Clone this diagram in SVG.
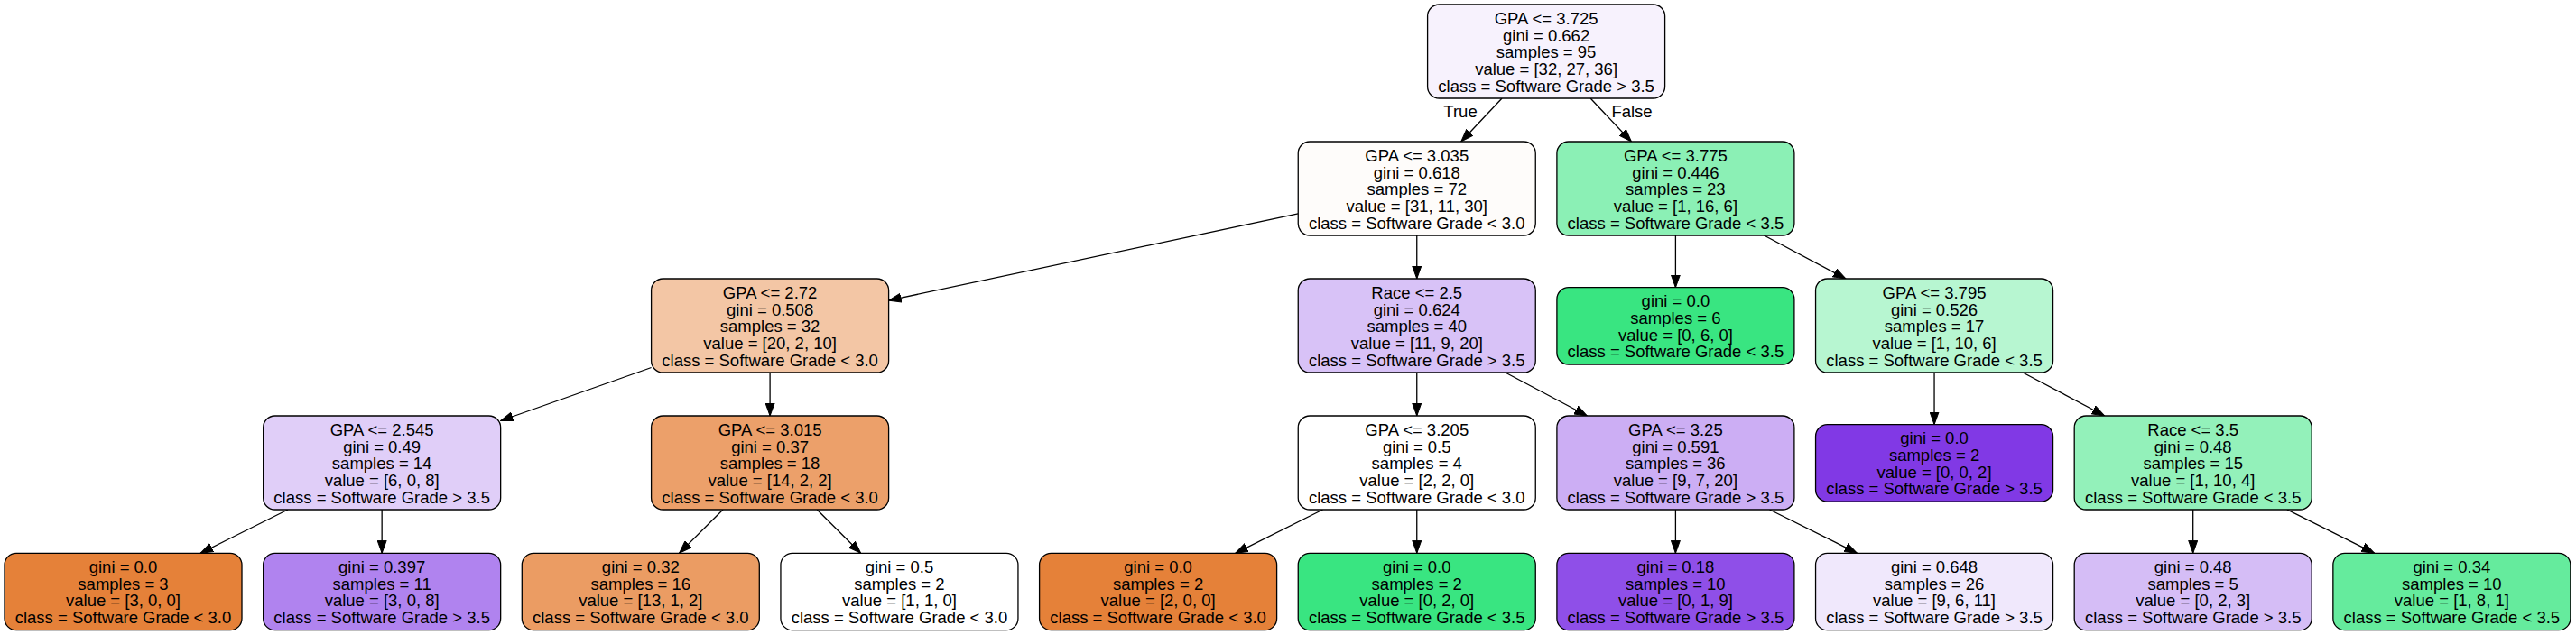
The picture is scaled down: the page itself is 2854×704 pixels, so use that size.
<svg xmlns="http://www.w3.org/2000/svg" width="2854" height="704" viewBox="0 0 2854 704">
<style>
.n rect{stroke:#000;stroke-width:1.3}
.n text{font-family:"Liberation Sans",Arial,Helvetica,sans-serif;font-size:18.5px;fill:#000;text-anchor:middle}
.e line{stroke:#000;stroke-width:1.3;marker-end:url(#ah)}
.lbl{font-family:"Liberation Sans",Arial,Helvetica,sans-serif;font-size:18.5px;fill:#000;text-anchor:middle}
</style>
<defs>
<marker id="ah" markerUnits="userSpaceOnUse" markerWidth="15" markerHeight="11" refX="14" refY="5.5" orient="auto" viewBox="0 0 15 11">
<path d="M0,0.5 L14,5.5 L0,10.5 z" fill="#000" stroke="#000" stroke-width="1"/>
</marker>
</defs>
<rect width="2854" height="704" fill="#fff"/>
<g id="edges" class="e">
<line x1="1664.05" y1="109" x2="1618.8" y2="157"/>
<line x1="1762.1" y1="109" x2="1807.4" y2="157"/>
<line x1="1438.25" y1="236.9" x2="984.6" y2="333.1"/>
<line x1="1569.75" y1="261" x2="1569.75" y2="309"/>
<line x1="1856.4" y1="261" x2="1856.4" y2="318.7"/>
<line x1="1954.5" y1="261" x2="2045" y2="309"/>
<line x1="721.6" y1="407.5" x2="554.65" y2="466.5"/>
<line x1="853.1" y1="413" x2="853.1" y2="461"/>
<line x1="318.9" y1="565" x2="222.1" y2="613.3"/>
<line x1="423.15" y1="565" x2="423.15" y2="613.3"/>
<line x1="801" y1="565" x2="752.6" y2="613.3"/>
<line x1="905.2" y1="565" x2="953.6" y2="613.3"/>
<line x1="1569.75" y1="413" x2="1569.75" y2="461"/>
<line x1="1667.8" y1="413" x2="1758.4" y2="461"/>
<line x1="2143.05" y1="413" x2="2143.05" y2="470.7"/>
<line x1="2241.1" y1="413" x2="2331.7" y2="461"/>
<line x1="1465.5" y1="565" x2="1368.7" y2="613.3"/>
<line x1="1569.75" y1="565" x2="1569.75" y2="613.3"/>
<line x1="1856.4" y1="565" x2="1856.4" y2="613.3"/>
<line x1="1960.6" y1="565" x2="2057.5" y2="613.3"/>
<line x1="2429.7" y1="565" x2="2429.7" y2="613.3"/>
<line x1="2533.9" y1="565" x2="2630.75" y2="613.3"/>
</g>
<text class="lbl" x="1618" y="130">True</text>
<text class="lbl" x="1808" y="130">False</text>

<g id="node0" class="n"><rect x="1581.6" y="5" width="263" height="104" rx="13" fill="#f7f2fd"/>
<text x="1713.1" y="27"><tspan x="1713.1">GPA &lt;= 3.725</tspan><tspan x="1713.1" dy="18.7">gini = 0.662</tspan><tspan x="1713.1" dy="18.7">samples = 95</tspan><tspan x="1713.1" dy="18.7">value = [32, 27, 36]</tspan><tspan x="1713.1" dy="18.7">class = Software Grade &gt; 3.5</tspan></text></g>

<g id="node1" class="n"><rect x="1438.25" y="157" width="263" height="104" rx="13" fill="#fefcfa"/>
<text x="1569.75" y="179"><tspan x="1569.75">GPA &lt;= 3.035</tspan><tspan x="1569.75" dy="18.7">gini = 0.618</tspan><tspan x="1569.75" dy="18.7">samples = 72</tspan><tspan x="1569.75" dy="18.7">value = [31, 11, 30]</tspan><tspan x="1569.75" dy="18.7">class = Software Grade &lt; 3.0</tspan></text></g>

<g id="node2" class="n"><rect x="1724.9" y="157" width="263" height="104" rx="13" fill="#8bf0b5"/>
<text x="1856.4" y="179"><tspan x="1856.4">GPA &lt;= 3.775</tspan><tspan x="1856.4" dy="18.7">gini = 0.446</tspan><tspan x="1856.4" dy="18.7">samples = 23</tspan><tspan x="1856.4" dy="18.7">value = [1, 16, 6]</tspan><tspan x="1856.4" dy="18.7">class = Software Grade &lt; 3.5</tspan></text></g>

<g id="node3" class="n"><rect x="721.6" y="309" width="263" height="104" rx="13" fill="#f3c6a5"/>
<text x="853.1" y="331"><tspan x="853.1">GPA &lt;= 2.72</tspan><tspan x="853.1" dy="18.7">gini = 0.508</tspan><tspan x="853.1" dy="18.7">samples = 32</tspan><tspan x="853.1" dy="18.7">value = [20, 2, 10]</tspan><tspan x="853.1" dy="18.7">class = Software Grade &lt; 3.0</tspan></text></g>

<g id="node4" class="n"><rect x="1438.25" y="309" width="263" height="104" rx="13" fill="#d8c2f7"/>
<text x="1569.75" y="331"><tspan x="1569.75">Race &lt;= 2.5</tspan><tspan x="1569.75" dy="18.7">gini = 0.624</tspan><tspan x="1569.75" dy="18.7">samples = 40</tspan><tspan x="1569.75" dy="18.7">value = [11, 9, 20]</tspan><tspan x="1569.75" dy="18.7">class = Software Grade &gt; 3.5</tspan></text></g>

<g id="node5" class="n"><rect x="1724.9" y="318.7" width="263" height="85.4" rx="13" fill="#39e581"/>
<text x="1856.4" y="340.2"><tspan x="1856.4">gini = 0.0</tspan><tspan x="1856.4" dy="18.7">samples = 6</tspan><tspan x="1856.4" dy="18.7">value = [0, 6, 0]</tspan><tspan x="1856.4" dy="18.7">class = Software Grade &lt; 3.5</tspan></text></g>

<g id="node6" class="n"><rect x="2011.55" y="309" width="263" height="104" rx="13" fill="#b7f6d1"/>
<text x="2143.05" y="331"><tspan x="2143.05">GPA &lt;= 3.795</tspan><tspan x="2143.05" dy="18.7">gini = 0.526</tspan><tspan x="2143.05" dy="18.7">samples = 17</tspan><tspan x="2143.05" dy="18.7">value = [1, 10, 6]</tspan><tspan x="2143.05" dy="18.7">class = Software Grade &lt; 3.5</tspan></text></g>

<g id="node7" class="n"><rect x="291.65" y="461" width="263" height="104" rx="13" fill="#e0cef8"/>
<text x="423.15" y="483"><tspan x="423.15">GPA &lt;= 2.545</tspan><tspan x="423.15" dy="18.7">gini = 0.49</tspan><tspan x="423.15" dy="18.7">samples = 14</tspan><tspan x="423.15" dy="18.7">value = [6, 0, 8]</tspan><tspan x="423.15" dy="18.7">class = Software Grade &gt; 3.5</tspan></text></g>

<g id="node8" class="n"><rect x="721.6" y="461" width="263" height="104" rx="13" fill="#eca06a"/>
<text x="853.1" y="483"><tspan x="853.1">GPA &lt;= 3.015</tspan><tspan x="853.1" dy="18.7">gini = 0.37</tspan><tspan x="853.1" dy="18.7">samples = 18</tspan><tspan x="853.1" dy="18.7">value = [14, 2, 2]</tspan><tspan x="853.1" dy="18.7">class = Software Grade &lt; 3.0</tspan></text></g>

<g id="node9" class="n"><rect x="1438.25" y="461" width="263" height="104" rx="13" fill="#ffffff"/>
<text x="1569.75" y="483"><tspan x="1569.75">GPA &lt;= 3.205</tspan><tspan x="1569.75" dy="18.7">gini = 0.5</tspan><tspan x="1569.75" dy="18.7">samples = 4</tspan><tspan x="1569.75" dy="18.7">value = [2, 2, 0]</tspan><tspan x="1569.75" dy="18.7">class = Software Grade &lt; 3.0</tspan></text></g>

<g id="node10" class="n"><rect x="1724.9" y="461" width="263" height="104" rx="13" fill="#ccaef4"/>
<text x="1856.4" y="483"><tspan x="1856.4">GPA &lt;= 3.25</tspan><tspan x="1856.4" dy="18.7">gini = 0.591</tspan><tspan x="1856.4" dy="18.7">samples = 36</tspan><tspan x="1856.4" dy="18.7">value = [9, 7, 20]</tspan><tspan x="1856.4" dy="18.7">class = Software Grade &gt; 3.5</tspan></text></g>

<g id="node11" class="n"><rect x="2011.55" y="470.7" width="263" height="85.4" rx="13" fill="#8139e5"/>
<text x="2143.05" y="492.2"><tspan x="2143.05">gini = 0.0</tspan><tspan x="2143.05" dy="18.7">samples = 2</tspan><tspan x="2143.05" dy="18.7">value = [0, 0, 2]</tspan><tspan x="2143.05" dy="18.7">class = Software Grade &gt; 3.5</tspan></text></g>

<g id="node12" class="n"><rect x="2298.2" y="461" width="263" height="104" rx="13" fill="#93f1ba"/>
<text x="2429.7" y="483"><tspan x="2429.7">Race &lt;= 3.5</tspan><tspan x="2429.7" dy="18.7">gini = 0.48</tspan><tspan x="2429.7" dy="18.7">samples = 15</tspan><tspan x="2429.7" dy="18.7">value = [1, 10, 4]</tspan><tspan x="2429.7" dy="18.7">class = Software Grade &lt; 3.5</tspan></text></g>

<g id="node13" class="n"><rect x="5" y="613.3" width="263" height="85.4" rx="13" fill="#e58139"/>
<text x="136.5" y="634.8"><tspan x="136.5">gini = 0.0</tspan><tspan x="136.5" dy="18.7">samples = 3</tspan><tspan x="136.5" dy="18.7">value = [3, 0, 0]</tspan><tspan x="136.5" dy="18.7">class = Software Grade &lt; 3.0</tspan></text></g>

<g id="node14" class="n"><rect x="291.65" y="613.3" width="263" height="85.4" rx="13" fill="#b083ef"/>
<text x="423.15" y="634.8"><tspan x="423.15">gini = 0.397</tspan><tspan x="423.15" dy="18.7">samples = 11</tspan><tspan x="423.15" dy="18.7">value = [3, 0, 8]</tspan><tspan x="423.15" dy="18.7">class = Software Grade &gt; 3.5</tspan></text></g>

<g id="node15" class="n"><rect x="578.3" y="613.3" width="263" height="85.4" rx="13" fill="#eb9c63"/>
<text x="709.8" y="634.8"><tspan x="709.8">gini = 0.32</tspan><tspan x="709.8" dy="18.7">samples = 16</tspan><tspan x="709.8" dy="18.7">value = [13, 1, 2]</tspan><tspan x="709.8" dy="18.7">class = Software Grade &lt; 3.0</tspan></text></g>

<g id="node16" class="n"><rect x="864.95" y="613.3" width="263" height="85.4" rx="13" fill="#ffffff"/>
<text x="996.45" y="634.8"><tspan x="996.45">gini = 0.5</tspan><tspan x="996.45" dy="18.7">samples = 2</tspan><tspan x="996.45" dy="18.7">value = [1, 1, 0]</tspan><tspan x="996.45" dy="18.7">class = Software Grade &lt; 3.0</tspan></text></g>

<g id="node17" class="n"><rect x="1151.6" y="613.3" width="263" height="85.4" rx="13" fill="#e58139"/>
<text x="1283.1" y="634.8"><tspan x="1283.1">gini = 0.0</tspan><tspan x="1283.1" dy="18.7">samples = 2</tspan><tspan x="1283.1" dy="18.7">value = [2, 0, 0]</tspan><tspan x="1283.1" dy="18.7">class = Software Grade &lt; 3.0</tspan></text></g>

<g id="node18" class="n"><rect x="1438.25" y="613.3" width="263" height="85.4" rx="13" fill="#39e581"/>
<text x="1569.75" y="634.8"><tspan x="1569.75">gini = 0.0</tspan><tspan x="1569.75" dy="18.7">samples = 2</tspan><tspan x="1569.75" dy="18.7">value = [0, 2, 0]</tspan><tspan x="1569.75" dy="18.7">class = Software Grade &lt; 3.5</tspan></text></g>

<g id="node19" class="n"><rect x="1724.9" y="613.3" width="263" height="85.4" rx="13" fill="#8f4fe8"/>
<text x="1856.4" y="634.8"><tspan x="1856.4">gini = 0.18</tspan><tspan x="1856.4" dy="18.7">samples = 10</tspan><tspan x="1856.4" dy="18.7">value = [0, 1, 9]</tspan><tspan x="1856.4" dy="18.7">class = Software Grade &gt; 3.5</tspan></text></g>

<g id="node20" class="n"><rect x="2011.55" y="613.3" width="263" height="85.4" rx="13" fill="#f0e8fc"/>
<text x="2143.05" y="634.8"><tspan x="2143.05">gini = 0.648</tspan><tspan x="2143.05" dy="18.7">samples = 26</tspan><tspan x="2143.05" dy="18.7">value = [9, 6, 11]</tspan><tspan x="2143.05" dy="18.7">class = Software Grade &gt; 3.5</tspan></text></g>

<g id="node21" class="n"><rect x="2298.2" y="613.3" width="263" height="85.4" rx="13" fill="#d5bdf6"/>
<text x="2429.7" y="634.8"><tspan x="2429.7">gini = 0.48</tspan><tspan x="2429.7" dy="18.7">samples = 5</tspan><tspan x="2429.7" dy="18.7">value = [0, 2, 3]</tspan><tspan x="2429.7" dy="18.7">class = Software Grade &gt; 3.5</tspan></text></g>

<g id="node22" class="n"><rect x="2584.85" y="613.3" width="263" height="85.4" rx="13" fill="#65eb9d"/>
<text x="2716.35" y="634.8"><tspan x="2716.35">gini = 0.34</tspan><tspan x="2716.35" dy="18.7">samples = 10</tspan><tspan x="2716.35" dy="18.7">value = [1, 8, 1]</tspan><tspan x="2716.35" dy="18.7">class = Software Grade &lt; 3.5</tspan></text></g>
</svg>
